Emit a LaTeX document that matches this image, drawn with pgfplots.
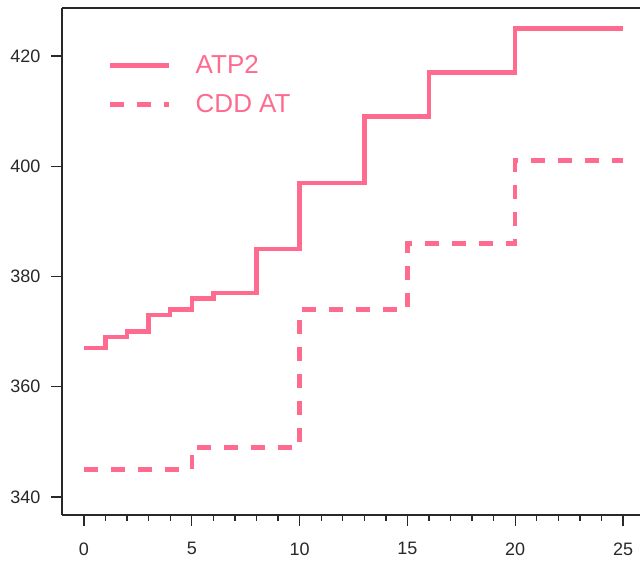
\documentclass[border=0pt]{standalone}
\usepackage{fontspec}
\setmainfont{Liberation Sans}
\usepackage{pgfplots}
\pgfplotsset{compat=1.18}
\definecolor{pk}{RGB}{255,106,143}
\definecolor{axc}{RGB}{40,40,40}
\begin{document}
\begin{tikzpicture}
\begin{axis}[
 scale only axis, width=582.6bp, height=507bp,
 xmin=-1.02, xmax=26, ymin=336.73, ymax=428.7,
 axis x line*=bottom, axis y line*=left,
 axis line style={axc, line width=1.3bp, -},
 xtick={0,5,...,25}, minor xtick={0,...,25},
 ytick={340,360,...,420},
 tick align=outside, tick style={axc, line width=1.3bp},
 major tick length=11bp, minor tick length=6bp,
 ticklabel style={font=\fontsize{18bp}{21bp}\selectfont, text=axc},
 /pgf/number format/assume math mode=true,
 xticklabel style={yshift=-13bp},
 yticklabel style={xshift=-7bp},
 legend style={at={(axis description cs:0.079,0.91)}, anchor=north west, draw=none, fill=none,
   font=\fontsize{26bp}{30bp}\selectfont, text=pk, row sep=15bp, inner sep=0pt,
   nodes={inner sep=2bp}},
 legend cell align=left,
 legend image code/.code={\draw[#1] (0bp,0bp) -- (59bp,0bp);},
 /tikz/every odd column/.append style={column sep=22bp},
]
\addplot[const plot, pk, line width=4.5bp] coordinates {(0,367)(1,369)(2,370)(3,373)(4,374)(5,376)(6,377)(8,385)(10,397)(13,409)(16,417)(20,425)(25,425)};
\addlegendentry{ATP2}
\addplot[const plot, pk, line width=4.5bp, dash pattern=on 14bp off 13bp] coordinates {(0,345)(5,349)(10,374)(15,386)(20,401)(25,401)};
\addlegendentry{CDD AT}
\draw[axc, line width=2bp] (rel axis cs:0,1) -- (rel axis cs:1,1);
\coordinate (BL) at (rel axis cs:0,0);
\coordinate (TL) at (rel axis cs:0,1);
\end{axis}
\pgfresetboundingbox
\path[use as bounding box] ([xshift=-62bp,yshift=-47bp]BL) rectangle ([xshift=578bp,yshift=8bp]TL);
\end{tikzpicture}
\end{document}
